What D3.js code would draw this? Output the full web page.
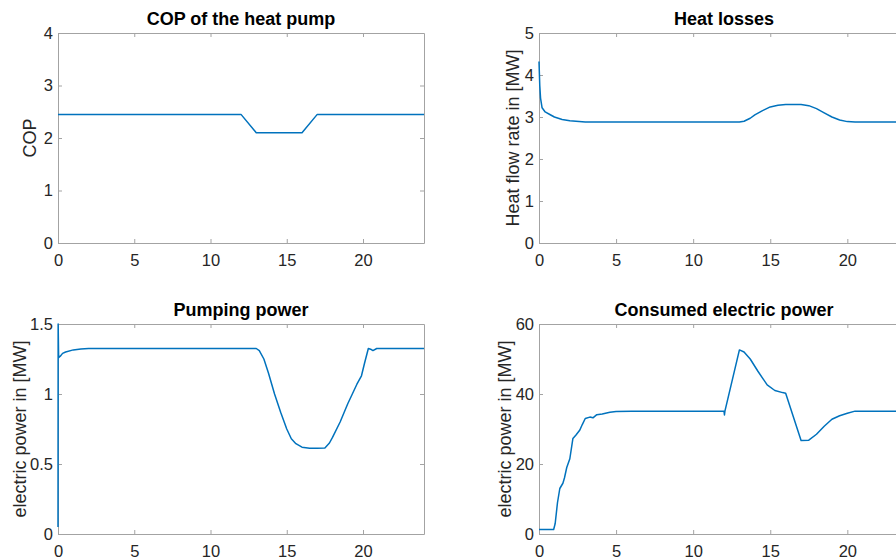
<!DOCTYPE html>
<html>
<head>
<meta charset="utf-8">
<title>district heating - pump results</title>
<script src="https://cdn.jsdelivr.net/npm/d3@7"></script>
<style>
	body { margin: 0; background: #fff; overflow: hidden; }
	svg { display: block; }
</style>
</head>
<body>
<div id="chart"></div>
<script>
'use strict';

// hours of the day
const xTicks = [0, 5, 10, 15, 20];

const copTime = [0, 12, 13, 16, 17, 24];
const copValue = [2.45, 2.45, 2.1, 2.1, 2.45, 2.45];
const copTicks = [0, 1, 2, 3, 4];

const lossTime = [0, 0.05, 0.1, 0.2, 0.4, 0.7, 1, 1.5, 2, 3, 13, 13.3, 13.7, 14, 14.5, 15, 15.5, 16, 17, 17.5, 18, 18.5, 19, 19.5, 20, 20.5, 24];
const lossValue = [4.32, 3.75, 3.45, 3.22, 3.12, 3.06, 3.0, 2.94, 2.91, 2.88, 2.88, 2.9, 2.97, 3.05, 3.15, 3.24, 3.28, 3.3, 3.3, 3.27, 3.2, 3.1, 3.0, 2.93, 2.89, 2.88, 2.88];
const lossTicks = [0, 1, 2, 3, 4, 5];

const pumpTime = [0, 0.01, 0.04, 0.15, 0.3, 0.5, 1, 1.5, 2, 13, 13.2, 13.5, 13.8, 14.2, 14.6, 15, 15.3, 15.6, 16, 16.5, 17, 17.5, 17.8, 18, 18.5, 19, 19.3, 19.6, 19.9, 20.1, 20.35, 20.5, 20.65, 20.9, 24];
const pumpValue = [0.05, 1.5, 1.26, 1.27, 1.29, 1.30, 1.315, 1.322, 1.325, 1.325, 1.31, 1.25, 1.15, 1.0, 0.87, 0.75, 0.68, 0.645, 0.62, 0.612, 0.612, 0.615, 0.65, 0.69, 0.8, 0.93, 1.0, 1.07, 1.13, 1.22, 1.325, 1.32, 1.31, 1.325, 1.325];
const pumpTicks = [0, 0.5, 1, 1.5];

const elecTime = [0, 0.95, 1.05, 1.2, 1.35, 1.55, 1.65, 1.8, 2.0, 2.2, 2.4, 2.65, 2.8, 3.0, 3.3, 3.5, 3.75, 4.1, 4.6, 5, 6, 12, 12.03, 12.06, 13, 13.3, 13.7, 14.2, 14.8, 15.3, 15.8, 16.0, 17.0, 17.5, 18, 18.5, 19, 19.5, 20, 20.5, 24];
const elecValue = [1.3, 1.3, 3, 9, 13, 14.5, 16, 19, 21.5, 27.3, 28.3, 29.7, 31.2, 33, 33.4, 33.2, 34.1, 34.3, 34.8, 35, 35.1, 35.1, 34, 35.1, 52.6, 52, 50, 46.5, 42.6, 41, 40.4, 40.2, 26.7, 26.8, 28.5, 30.8, 32.8, 33.8, 34.5, 35.1, 35.1];
const elecTicks = [0, 20, 40, 60];

const W = 896, H = 558;
const FONT = "'Liberation Sans', Arial, Helvetica, sans-serif";
const LINE = "#0072bd";
const AXIS = "#a3a3a3";
const TEXT = "#262626";

const svg = d3.select("#chart")
	.append("svg")
		.attr("width", W)
		.attr("height", H)
	;

// one matlab subplot: box [left, top, right, bottom] in px
function subplot(box, title, ylabel, labelX, time, value, yDomain, yTicks) {
	const [x0, y0, x1, y1] = box;

	const x = d3.scaleLinear().domain([0, 24]).range([x0, x1]);
	const y = d3.scaleLinear().domain(yDomain).range([y1, y0]);

	const g = svg.append("g");

	// box with inward ticks on all four sides
	const bottom = g.append("g")
		.attr("transform", `translate(0,${y1})`)
		.call(d3.axisBottom(x).tickValues(xTicks).tickFormat(d3.format("~g")).tickSizeInner(-4).tickSizeOuter(0).tickPadding(7))
		;
	g.append("g")
		.attr("transform", `translate(0,${y0})`)
		.call(d3.axisTop(x).tickValues(xTicks).tickSizeInner(-4).tickSizeOuter(0).tickFormat(""))
		;
	g.append("g")
		.attr("transform", `translate(${x0},0)`)
		.call(d3.axisLeft(y).tickValues(yTicks).tickFormat(d3.format("~g")).tickSizeInner(-4).tickSizeOuter(0).tickPadding(5))
		;
	g.append("g")
		.attr("transform", `translate(${x1},0)`)
		.call(d3.axisRight(y).tickValues(yTicks).tickSizeInner(-4).tickSizeOuter(0).tickFormat(""))
		;

	g.selectAll(".domain").attr("stroke", AXIS);
	g.selectAll(".tick line").attr("stroke", AXIS);
	g.selectAll(".tick text")
		.attr("font-family", FONT)
		.attr("font-size", "16.5px")
		.attr("fill", TEXT)
		;
	bottom.selectAll(".tick text").attr("dy", "0.95em");

	const lineGenerator = d3.line()
		.x((d, i) => x(time[i]))
		.y(d => y(d))
		;

	g.append("path")
		.datum(value)
		.attr("d", lineGenerator)
		.attr("fill", "none")
		.attr("stroke", LINE)
		.attr("stroke-width", 1.5)
		.attr("stroke-linejoin", "round")
		;

	g.append("text")
		.attr("x", (x0 + x1) / 2)
		.attr("y", y0 - 8)
		.attr("text-anchor", "middle")
		.attr("font-family", FONT)
		.attr("font-weight", "bold")
		.attr("font-size", "18px")
		.attr("fill", "#000")
		.text(title)
		;

	g.append("text")
		.attr("transform", `translate(${labelX},${(y0 + y1) / 2}) rotate(-90)`)
		.attr("text-anchor", "middle")
		.attr("font-family", FONT)
		.attr("font-size", "18px")
		.attr("fill", TEXT)
		.text(ylabel)
		;
}

subplot([58, 33, 424, 243], "COP of the heat pump", "COP", 36, copTime, copValue, [0, 4], copTicks);
subplot([539, 33, 909, 243], "Heat losses", "Heat flow rate in [MW]", 519, lossTime, lossValue, [0, 5], lossTicks);
subplot([58, 324, 424, 534], "Pumping power", "electric power in [MW]", 26, pumpTime, pumpValue, [0, 1.5], pumpTicks);
subplot([539, 324, 909, 534], "Consumed electric power", "electric power in [MW]", 511, elecTime, elecValue, [0, 60], elecTicks);
</script>
</body>
</html>
